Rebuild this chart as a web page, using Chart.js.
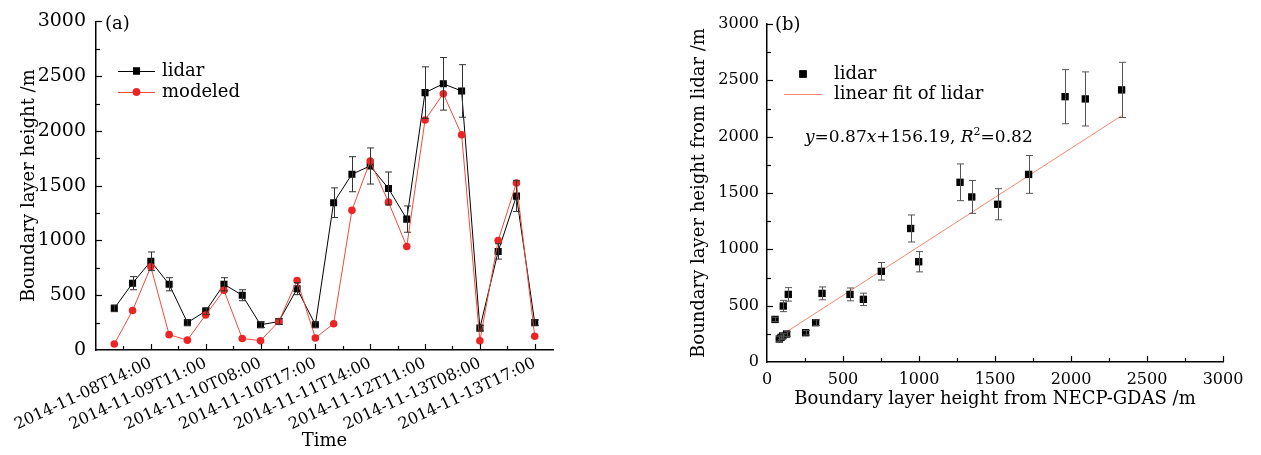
<!DOCTYPE html>
<html lang="en">
<head>
<meta charset="UTF-8">
<title>Boundary layer height: lidar vs modeled</title>
<script src="https://cdn.jsdelivr.net/npm/chart.js"></script>
<style>
  body { margin: 0; background: #fff; }
  .panel { position: absolute; top: 0; height: 455px; }
  #left { left: 0; width: 620px; }
  #right { left: 640px; width: 621px; }
</style>
</head>
<body>
<div class="panel" id="left"><canvas id="timeChart"></canvas></div>
<div class="panel" id="right"><canvas id="scatterChart"></canvas></div>
<script>
// ---- panel (a): time series ----
const timeLabels = ['2014-11-08T14:00', '2014-11-09T11:00', '2014-11-10T08:00', '2014-11-10T17:00',
                    '2014-11-11T14:00', '2014-11-12T11:00', '2014-11-13T08:00', '2014-11-13T17:00'];
const labelPositions = [2, 5, 8, 11, 14, 17, 20, 23];
const lidarHeight = [380, 610, 810, 600, 250, 355, 600, 500, 230, 260, 560, 230,
                     1345, 1605, 1680, 1475, 1195, 2350, 2430, 2365, 200, 900, 1405, 250];
const lidarError = [30, 60, 85, 60, 25, 30, 60, 50, 25, 25, 55, 25,
                    135, 160, 165, 150, 120, 235, 240, 240, 25, 70, 140, 25];
const modeledHeight = [55, 360, 760, 140, 90, 320, 545, 105, 85, 260, 635, 110,
                       240, 1275, 1725, 1350, 945, 2100, 2340, 1965, 85, 1000, 1525, 125];

// ---- panel (b): lidar vs NECP-GDAS ----
const gdasHeight = [53, 81, 92, 103, 107, 129, 140, 254, 320, 362, 546, 634,
                    752, 945, 998, 1270, 1347, 1518, 1721, 1961, 2094, 2333];
const lidarVsGdas = [378, 204, 218, 231, 497, 248, 600, 260, 349, 609, 600, 556,
                     805, 1185, 890, 1595, 1465, 1400, 1665, 2355, 2335, 2415];
const lidarVsGdasError = [20, 20, 20, 20, 50, 20, 60, 20, 25, 57, 57, 55,
                          78, 120, 90, 163, 146, 138, 168, 240, 240, 245];
const fitX = [53, 2333];
const fitY = [202, 2186];

const FONT = '"DejaVu Serif", serif';

// tick marks pointing into the plot, major + minor
const innerTicks = {
  id: 'innerTicks',
  afterDraw(chart, args, opts) {
    const { ctx, chartArea: a, scales } = chart;
    ctx.save();
    ctx.strokeStyle = '#000';
    ctx.lineWidth = 1.2;
    const tick = (axis, vals, len) => vals.forEach(v => {
      ctx.beginPath();
      if (axis === 'x') {
        const p = Math.round(scales.x.getPixelForValue(v)) + 0.5;
        ctx.moveTo(p, a.bottom); ctx.lineTo(p, a.bottom - len);
      } else {
        const p = Math.round(scales.y.getPixelForValue(v)) + 0.5;
        ctx.moveTo(a.left, p); ctx.lineTo(a.left + len, p);
      }
      ctx.stroke();
    });
    tick('x', opts.xMajor, 6); tick('x', opts.xMinor, 4);
    tick('y', opts.yMajor, 6); tick('y', opts.yMinor, 4);
    ctx.restore();
  }
};

// vertical error bars from dataset.errors
const errorBars = {
  id: 'errorBars',
  afterDatasetsDraw(chart, args, opts) {
    const { ctx } = chart;
    ctx.save();
    ctx.strokeStyle = opts.color;
    ctx.lineWidth = 1;
    chart.data.datasets.forEach((ds, i) => {
      if (!ds.errors) return;
      const meta = chart.getDatasetMeta(i);
      const ys = meta.yScale;
      ds.data.forEach((d, j) => {
        const e = ds.errors[j];
        const x = Math.round(meta.xScale.getPixelForValue(d.x)) + 0.5;
        const top = ys.getPixelForValue(d.y + e), bot = ys.getPixelForValue(d.y - e);
        ctx.beginPath();
        ctx.moveTo(x, top); ctx.lineTo(x, bot);
        ctx.moveTo(x - 3.5, top); ctx.lineTo(x + 3.5, top);
        ctx.moveTo(x - 3.5, bot); ctx.lineTo(x + 3.5, bot);
        ctx.stroke();
      });
    });
    ctx.restore();
  }
};

// legend and text notes placed inside the plot
const notes = {
  id: 'notes',
  afterDraw(chart, args, opts) {
    const { ctx } = chart;
    ctx.save();
    ctx.fillStyle = '#000';
    ctx.textBaseline = 'middle';
    ctx.font = '18px ' + FONT;
    (opts.texts || []).forEach(t => ctx.fillText(t.text, t.x, t.y));
    (opts.legend || []).forEach(item => {
      const ds = chart.data.datasets[item.dataset];
      if (item.line) {
        ctx.strokeStyle = ds.borderColor;
        ctx.lineWidth = 1;
        ctx.beginPath();
        ctx.moveTo(item.x0, item.y + 0.5); ctx.lineTo(item.x1, item.y + 0.5);
        ctx.stroke();
      }
      if (item.marker) {
        ctx.fillStyle = ds.pointBackgroundColor;
        Chart.helpers.drawPoint(ctx, { pointStyle: ds.pointStyle, radius: ds.pointRadius, borderWidth: 0 },
          (item.x0 + item.x1) / 2, item.y);
        ctx.fill();
      }
      ctx.fillStyle = '#000';
      ctx.fillText(ds.label, item.tx, item.y);
    });
    if (opts.equation) {
      let x = opts.equation.x;
      const y = opts.equation.y;
      opts.equation.parts.forEach(p => {
        ctx.font = (p.italic ? 'italic ' : '') + (p.sup ? '11px ' : '17px ') + FONT;
        ctx.fillText(p.t, x, p.sup ? y - 6 : y);
        x += ctx.measureText(p.t).width;
      });
    }
    ctx.restore();
  }
};

const axisFont = size => ({ family: FONT, size: size });
const plainNumber = v => String(v);
const noSidePadding = s => { s.paddingLeft = 0; s.paddingRight = 0; };

const timeChart = new Chart(document.getElementById('timeChart'), {
  type: 'line',
  data: {
    datasets: [
      {
        label: 'lidar',
        data: lidarHeight.map((v, i) => ({ x: i, y: v })),
        errors: lidarError,
        borderColor: '#000',
        borderWidth: 1,
        pointStyle: 'rect',
        pointRadius: 5,
        pointBackgroundColor: '#000',
        pointBorderWidth: 0,
        order: 1
      },
      {
        label: 'modeled',
        data: modeledHeight.map((v, i) => ({ x: i, y: v })),
        borderColor: '#f04a3a',
        borderWidth: 1,
        pointStyle: 'circle',
        pointRadius: 3.8,
        pointBackgroundColor: '#ec2424',
        pointBorderWidth: 0,
        order: 0
      }
    ]
  },
  options: {
    responsive: true,
    maintainAspectRatio: false,
    animation: false,
    layout: { padding: { top: 14, right: 67, left: 0, bottom: 0 } },
    plugins: {
      legend: { display: false },
      tooltip: { enabled: false },
      errorBars: { color: '#333' },
      innerTicks: {
        xMajor: labelPositions,
        xMinor: [0.5, 3.5, 6.5, 9.5, 12.5, 15.5, 18.5, 21.5],
        yMajor: [500, 1000, 1500, 2000, 2500, 3000],
        yMinor: [250, 750, 1250, 1750, 2250, 2750]
      },
      notes: {
        texts: [{ text: '(a)', x: 105, y: 24 }],
        legend: [
          { dataset: 0, line: true, marker: true, x0: 118, x1: 155, tx: 162, y: 71 },
          { dataset: 1, line: true, marker: true, x0: 118, x1: 155, tx: 162, y: 92 }
        ]
      }
    },
    scales: {
      x: {
        type: 'linear',
        min: -1,
        max: 24,
        afterBuildTicks: s => { s.ticks = labelPositions.map(v => ({ value: v })); },
        afterFit: s => { s.height = 105; noSidePadding(s); },
        ticks: {
          autoSkip: false,
          minRotation: 25,
          maxRotation: 25,
          padding: 4,
          color: '#000',
          font: axisFont(16),
          callback: (v, i) => timeLabels[i]
        },
        grid: { display: false, drawTicks: false },
        border: { display: true, color: '#000', width: 1.5 },
        title: { display: true, text: 'Time', color: '#000', font: axisFont(18), padding: { bottom: 3 } }
      },
      y: {
        min: 0,
        max: 3000,
        afterFit: s => { s.width = 96; },
        ticks: { stepSize: 500, padding: 10, color: '#000', font: axisFont(19), callback: plainNumber },
        grid: { display: false, drawTicks: false },
        border: { display: true, color: '#000', width: 1.5 },
        title: { display: true, text: 'Boundary layer height /m', color: '#000', font: axisFont(18), padding: { top: 19 } }
      }
    }
  },
  plugins: [errorBars, innerTicks, notes]
});

const scatterChart = new Chart(document.getElementById('scatterChart'), {
  type: 'scatter',
  data: {
    datasets: [
      {
        label: 'lidar',
        data: gdasHeight.map((v, i) => ({ x: v, y: lidarVsGdas[i] })),
        errors: lidarVsGdasError,
        pointStyle: 'rect',
        pointRadius: 5.2,
        pointBackgroundColor: '#000',
        pointBorderWidth: 0,
        order: 0
      },
      {
        type: 'line',
        label: 'linear fit of lidar',
        data: fitX.map((v, i) => ({ x: v, y: fitY[i] })),
        borderColor: '#f7866f',
        borderWidth: 1,
        pointRadius: 0,
        order: 1
      }
    ]
  },
  options: {
    responsive: true,
    maintainAspectRatio: false,
    animation: false,
    layout: { padding: { top: 24, right: 38, left: 0, bottom: 0 } },
    plugins: {
      legend: { display: false },
      tooltip: { enabled: false },
      errorBars: { color: '#555' },
      innerTicks: {
        xMajor: [500, 1000, 1500, 2000, 2500, 3000],
        xMinor: [250, 750, 1250, 1750, 2250, 2750],
        yMajor: [500, 1000, 1500, 2000, 2500, 3000],
        yMinor: [250, 750, 1250, 1750, 2250, 2750]
      },
      notes: {
        texts: [{ text: '(b)', x: 135, y: 25 }],
        legend: [
          { dataset: 0, line: false, marker: true, x0: 144, x1: 182, tx: 194, y: 74 },
          { dataset: 1, line: true, marker: false, x0: 144, x1: 182, tx: 194, y: 94 }
        ],
        equation: {
          x: 165, y: 138,
          parts: [
            { t: 'y', italic: true }, { t: '=0.87' }, { t: 'x', italic: true }, { t: '+156.19, ' },
            { t: 'R', italic: true }, { t: '2', sup: true }, { t: '=0.82' }
          ]
        }
      }
    },
    scales: {
      x: {
        type: 'linear',
        min: 0,
        max: 3000,
        afterFit: s => { s.height = 93; },
        ticks: { stepSize: 500, padding: 8, color: '#000', font: axisFont(16), maxRotation: 0, callback: plainNumber },
        grid: { display: false, drawTicks: false },
        border: { display: true, color: '#000', width: 1.5 },
        title: { display: true, text: 'Boundary layer height from NECP-GDAS /m', color: '#000', font: axisFont(18), padding: { bottom: 45 } }
      },
      y: {
        min: 0,
        max: 3000,
        afterFit: s => { s.width = 127; },
        ticks: { stepSize: 500, padding: 8, color: '#000', font: axisFont(16), callback: plainNumber },
        grid: { display: false, drawTicks: false },
        border: { display: true, color: '#000', width: 1.5 },
        title: { display: true, text: 'Boundary layer height from lidar /m', color: '#000', font: axisFont(18), padding: { top: 49 } }
      }
    }
  },
  plugins: [errorBars, innerTicks, notes]
});
</script>
</body>
</html>
